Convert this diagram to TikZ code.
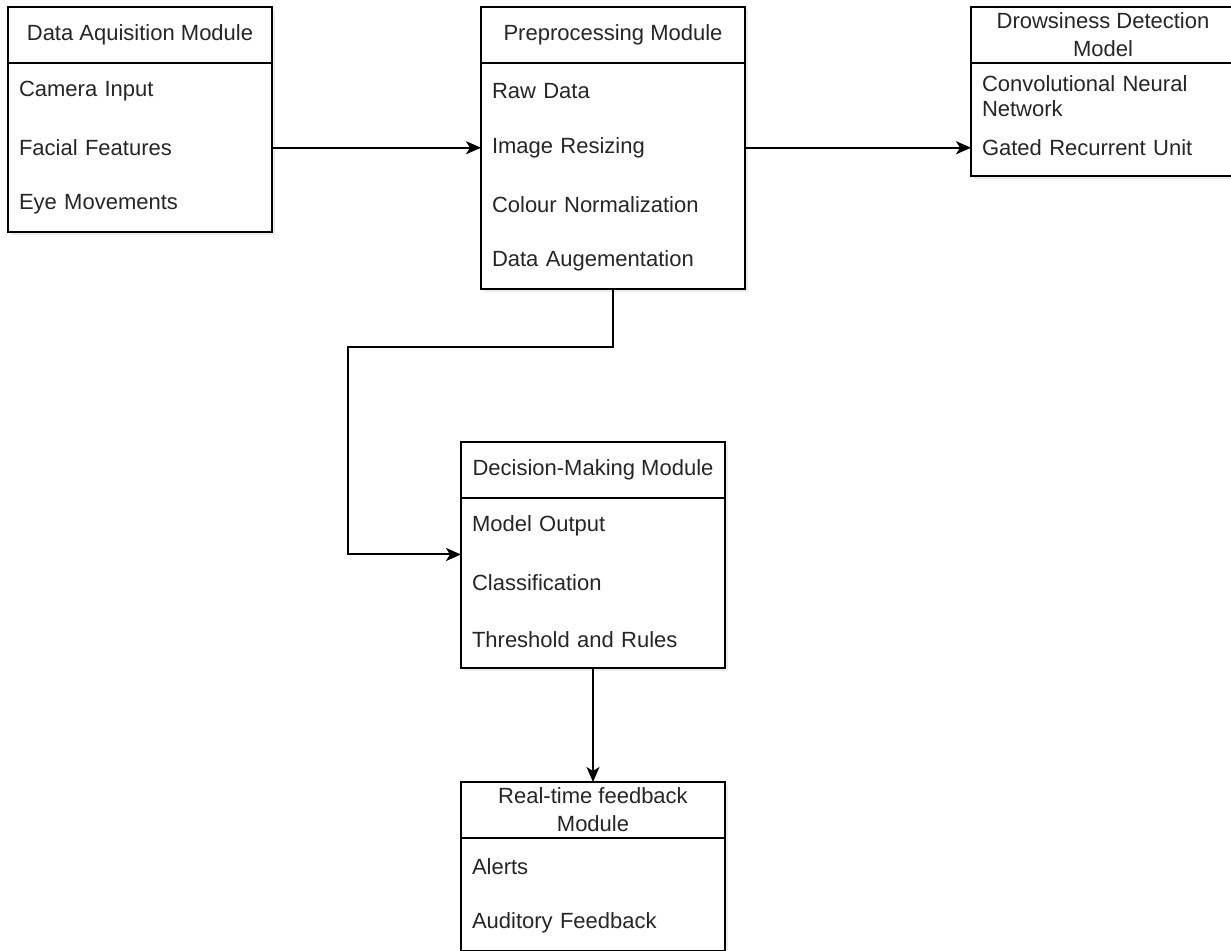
\documentclass[tikz,border=0pt]{standalone}
\usepackage{fontspec}
\setmainfont{Liberation Sans}
\usepackage{xcolor}
\usetikzlibrary{shapes,arrows.meta,positioning,shadows}

\tikzset{
    modhead/.style={
        draw, line width=1pt, fill=white, outer sep=0pt,
        minimum width=132pt, minimum height=28pt, inner sep=0pt,
        align=center, anchor=north west, text=black!85,
        font=\fontsize{11}{14}\selectfont,
        drop shadow={opacity=0.15, shadow xshift=1.5pt, shadow yshift=-1.5pt}
    },
    modbody/.style={
        draw, line width=1pt, fill=white, outer sep=0pt,
        minimum width=132pt, minimum height=#1*28.25pt, inner sep=0pt,
        drop shadow={opacity=0.15, shadow xshift=1.5pt, shadow yshift=-1.5pt}
    },
    modrow/.style={
        outer sep=0pt, minimum width=132pt, minimum height=28.25pt,
        text width=121pt, inner xsep=5.5pt, inner ysep=0pt,
        align=left, text=black!85, font=\fontsize{11}{12.5}\selectfont
    },
    flow/.style={line width=1pt, -{Stealth[length=7.5pt,width=6.5pt,inset=2pt]}}
}

\begin{document}
\begin{tikzpicture}[x=0.5pt, y=-0.5pt]
    \useasboundingbox (0,0) rectangle (1231,951);

    % data aquisition
    \node[modhead] (acq) at (8,7) {Data Aquisition Module};
    \node[modbody=3, below=0pt of acq] (acqbody) {};
    \node[modrow, below=0pt of acq] (acq1) {Camera Input};
    \node[modrow, below=0pt of acq1] (acq2) {Facial Features};
    \node[modrow, below=0pt of acq2] (acq3) {Eye Movements};

    % preprocessing
    \node[modhead] (pre) at (481,7) {Preprocessing Module};
    \node[modbody=4, below=0pt of pre] (prebody) {};
    \node[modrow, below=0pt of pre] (pre1) {Raw Data};
    \node[modrow, below=0pt of pre1] (pre2) {Image Resizing};
    \node[modrow, below=0pt of pre2] (pre3) {Colour Normalization};
    \node[modrow, below=0pt of pre3] (pre4) {Data Augementation};

    % detection model
    \node[modhead] (det) at (971,7) {Drowsiness Detection\\Model};
    \node[modbody=2, below=0pt of det] (detbody) {};
    \node[modrow, below=0pt of det, yshift=-2.5pt] (det1) {Convolutional Neural\\Network};
    \node[modrow, below=0pt of det1, yshift=2.5pt] (det2) {Gated Recurrent Unit};

    % decision making
    \node[modhead] (dec) at (461,442) {Decision-Making Module};
    \node[modbody=3, below=0pt of dec] (decbody) {};
    \node[modrow, below=0pt of dec] (dec1) {Model Output};
    \node[modrow, below=0pt of dec1] (dec2) {Classification};
    \node[modrow, below=0pt of dec2] (dec3) {Threshold and Rules};

    % feedback
    \node[modhead] (fb) at (461,782) {Real-time feedback\\Module};
    \node[modbody=2, below=0pt of fb] (fbbody) {};
    \node[modrow, below=0pt of fb] (fb1) {Alerts};
    \node[modrow, below=0pt of fb1] (fb2) {Auditory Feedback};

    % connectors
    \coordinate (bend) at (348,347);
    \draw[flow] (acq2.east) -- (pre2.west);
    \draw[flow] (pre2.east) -- (det2.west);
    \draw[flow] (pre4.south) |- (bend) |- (dec1.south west);
    \draw[flow] (dec3.south) -- (fb.north);
\end{tikzpicture}
\end{document}
